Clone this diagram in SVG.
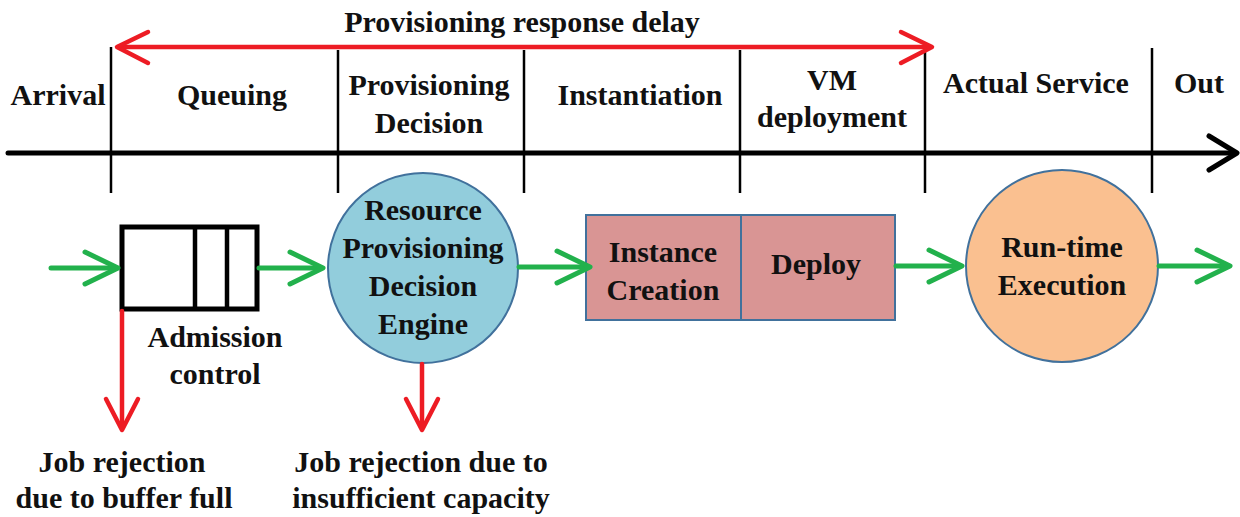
<svg xmlns="http://www.w3.org/2000/svg" width="1240" height="517" viewBox="0 0 1240 517">
<style>
text{font-family:"Liberation Serif","Times New Roman",serif;font-weight:bold;font-size:30px;fill:#111;text-anchor:middle}
.tick{stroke:#000;stroke-width:2.5}
.axis{stroke:#000;stroke-width:5;fill:none;stroke-linecap:round;stroke-linejoin:round}
.red{stroke:#ed1c24;stroke-width:4.5;fill:none;stroke-linecap:round;stroke-linejoin:round}
.green{stroke:#22b14c;stroke-width:5;fill:none;stroke-linecap:round;stroke-linejoin:round}
.node{stroke:#41719c;stroke-width:2}
</style>
<g id="timeline">
<line class="axis" x1="8" y1="153" x2="1235" y2="153"/>
<polyline class="axis" points="1209,136 1237,153 1209,170"/>
<line class="tick" x1="111" y1="47" x2="111" y2="193"/>
<line class="tick" x1="338" y1="50" x2="338" y2="193"/>
<line class="tick" x1="524" y1="50" x2="524" y2="193"/>
<line class="tick" x1="740" y1="50" x2="740" y2="193"/>
<line class="tick" x1="925" y1="50" x2="925" y2="193"/>
<line class="tick" x1="1152" y1="48" x2="1152" y2="193"/>
<text x="58" y="105">Arrival</text>
<text x="232" y="105">Queuing</text>
<text x="429" y="95">Provisioning</text>
<text x="429" y="133">Decision</text>
<text x="640" y="105">Instantiation</text>
<text x="832" y="90">VM</text>
<text x="832" y="127">deployment</text>
<text x="1036" y="93">Actual Service</text>
<text x="1199" y="93">Out</text>
</g>
<g id="delay">
<text x="522" y="32">Provisioning response delay</text>
</g>
<g id="queue">
<rect x="122" y="227" width="135" height="82" fill="#fff" stroke="#000" stroke-width="5"/>
<line x1="195" y1="227" x2="195" y2="309" stroke="#000" stroke-width="4.5"/>
<line x1="227" y1="227" x2="227" y2="309" stroke="#000" stroke-width="4.5"/>
<text x="215" y="347">Admission</text>
<text x="215" y="384">control</text>
</g>
<g id="engine">
<circle class="node" cx="423" cy="268" r="95" fill="#92cddc"/>
<text x="423" y="220">Resource</text>
<text x="423" y="258">Provisioning</text>
<text x="423" y="296">Decision</text>
<text x="423" y="334">Engine</text>
</g>
<g id="instance">
<rect class="node" x="586" y="215" width="155" height="105" fill="#d99594"/>
<text x="663" y="262">Instance</text>
<text x="663" y="300">Creation</text>
</g>
<g id="deploy">
<rect class="node" x="741" y="215" width="154" height="105" fill="#d99594"/>
<text x="816" y="274">Deploy</text>
</g>
<g id="runtime">
<circle class="node" cx="1062" cy="266" r="96" fill="#fac090"/>
<text x="1062" y="257">Run-time</text>
<text x="1062" y="295">Execution</text>
</g>
<g id="reject-buffer">
<text x="122" y="472">Job rejection</text>
<text x="124" y="508">due to buffer full</text>
</g>
<g id="reject-capacity">
<text x="421" y="472">Job rejection due to</text>
<text x="421" y="508">insufficient capacity</text>
</g>
<g id="connectors">
<line class="red" x1="118" y1="47" x2="930" y2="47"/>
<polyline class="red" points="148,32 117,47 148,63"/>
<polyline class="red" points="901,32 932,47 901,63"/>
<line class="green" x1="51" y1="268" x2="116" y2="268"/>
<polyline class="green" points="85,252 118,268 85,284"/>
<line class="green" x1="259" y1="268" x2="321" y2="268"/>
<polyline class="green" points="290,252 323,268 290,284"/>
<line class="green" x1="519" y1="267" x2="588" y2="267"/>
<polyline class="green" points="557,251 590,267 557,283"/>
<line class="green" x1="896" y1="266" x2="960" y2="266"/>
<polyline class="green" points="929,250 962,266 929,282"/>
<line class="green" x1="1159" y1="266" x2="1228" y2="266"/>
<polyline class="green" points="1197,250 1230,266 1197,282"/>
<line class="red" x1="122" y1="311" x2="122" y2="428"/>
<polyline class="red" points="106,399 122,430 138,399"/>
<line class="red" x1="422" y1="364" x2="422" y2="428"/>
<polyline class="red" points="406,399 422,430 438,399"/>
</g>
</svg>
